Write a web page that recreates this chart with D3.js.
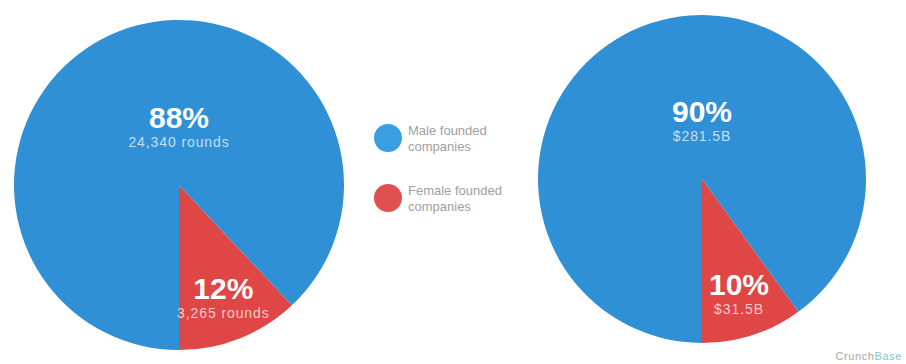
<!DOCTYPE html>
<html>
<head>
<meta charset="utf-8">
<script src="https://cdn.jsdelivr.net/npm/d3@7"></script>
<style>
  html, body { margin: 0; padding: 0; background: #ffffff; }
  svg { display: block; font-family: "Liberation Sans", Arial, Helvetica, sans-serif; }
</style>
</head>
<body>
<svg id="chart" width="906" height="364"></svg>
<script>
// ---- data ----
const categories = ["Male founded companies", "Female founded companies"];
const legendLines = [["Male founded", "companies"], ["Female founded", "companies"]];
const roundsShare = [88, 12];
const roundsLabels = ["24,340 rounds", "3,265 rounds"];
const fundingShare = [90, 10];
const fundingLabels = ["$281.5B", "$31.5B"];
const colors = ["#2f90d6", "#df4646"];
const legendColors = ["#38a0e0", "#e05050"];

const svg = d3.select("#chart");
const color = d3.scaleOrdinal().domain(categories).range(colors);

function drawPie(cx, cy, r, shares, subLabels) {
  const data = categories.map((c, i) => ({ cat: c, value: shares[i], sub: subLabels[i] }));
  const femaleFrac = shares[1] / d3.sum(shares);
  // female wedge ends at 6 o'clock, male wedge wraps round the rest
  const start = Math.PI - femaleFrac * 2 * Math.PI;
  const pie = d3.pie().sort(null).value(d => d.value)
    .startAngle(start)
    .endAngle(start + 2 * Math.PI);
  const ordered = [data[1], data[0]];
  const arcs = pie(ordered);
  const arc = d3.arc().innerRadius(0).outerRadius(r);
  const g = svg.append("g").attr("transform", `translate(${cx},${cy})`);
  g.selectAll("path").data(arcs).enter().append("path")
    .attr("d", arc)
    .attr("fill", d => color(d.data.cat));

  const labelArc = d3.arc().innerRadius(r * 0.73).outerRadius(r * 0.73);
  arcs.forEach(a => {
    const pos = a.data.cat === categories[0] ? [0, -0.36 * r] : labelArc.centroid(a);
    const t = g.append("g").attr("transform", `translate(${pos[0]},${pos[1]})`);
    t.append("text")
      .attr("text-anchor", "middle")
      .attr("y", 2)
      .attr("fill", "#ffffff")
      .attr("font-size", 30)
      .attr("font-weight", "bold")
      .text(a.data.value + "%");
    t.append("text")
      .attr("text-anchor", "middle")
      .attr("y", 21)
      .attr("fill", "rgba(255,255,255,0.72)")
      .attr("font-size", 14)
      .attr("letter-spacing", 0.9)
      .text(a.data.sub);
  });
}

drawPie(179, 185, 165, roundsShare, roundsLabels);
drawPie(702, 179, 164, fundingShare, fundingLabels);

// legend
const legend = svg.append("g");
const legendY = [138, 198];
categories.forEach((c, i) => {
  const lg = legend.append("g").attr("transform", `translate(388,${legendY[i]})`);
  lg.append("circle").attr("r", 14).attr("fill", legendColors[i]);
  legendLines[i].forEach((ln, j) => {
    lg.append("text")
      .attr("x", 20)
      .attr("y", -3 + j * 16)
      .attr("fill", "#a0a0a0")
      .attr("font-size", 13)
      .text(ln);
  });
});

// watermark
const wm = svg.append("text")
  .attr("x", 902).attr("y", 360)
  .attr("text-anchor", "end")
  .attr("font-size", 11)
  .attr("letter-spacing", 0.6);
wm.append("tspan").attr("fill", "#a8a8a8").text("Crunch");
wm.append("tspan").attr("fill", "#86c3d3").text("Base");
</script>
</body>
</html>
